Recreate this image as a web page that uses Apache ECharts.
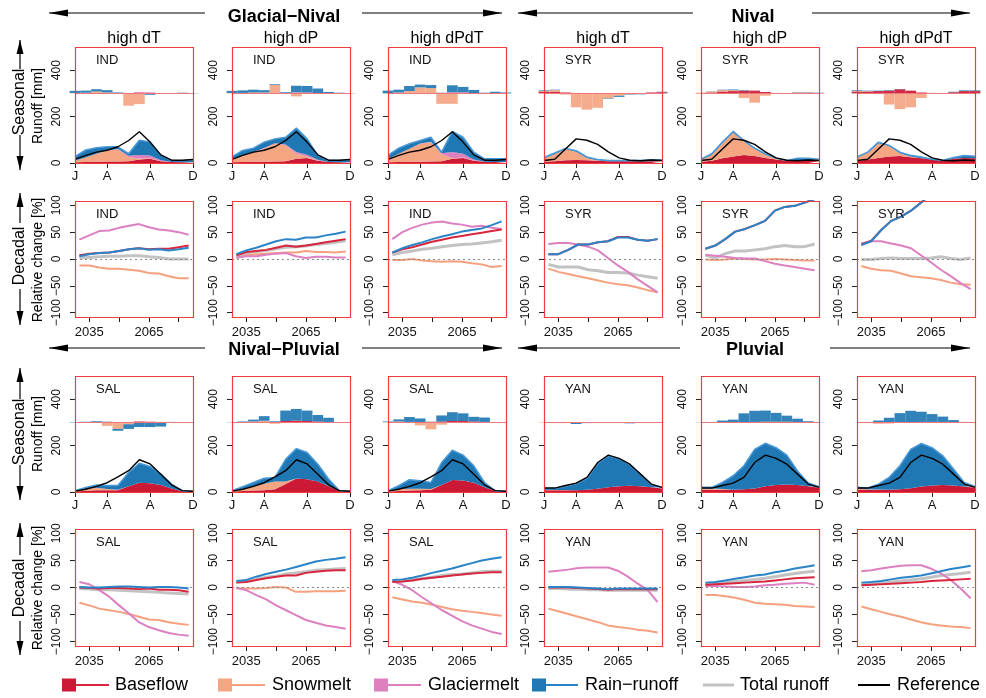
<!DOCTYPE html>
<html>
<head>
<meta charset="utf-8">
<title>Seasonal runoff and decadal relative change</title>
<script src="https://cdn.jsdelivr.net/npm/echarts@6/dist/echarts.min.js"></script>
<style>
  html, body { margin: 0; padding: 0; background: #fff; }
  #main { width: 986px; height: 698px; }
</style>
</head>
<body>
<div id="main"></div>
<script>
// ---- axes ----
var monthIdx = ['1','2','3','4','5','6','7','8','9','10','11','12'];
var monthLabels = {0: 'J', 3: 'A', 7: 'A', 11: 'D'};
var years = [2030, 2035, 2040, 2045, 2050, 2055, 2060, 2065, 2070, 2075, 2080, 2085];
var yearTicks = [2035, 2050, 2065, 2080];
var yearLabels = [2035, 2065];
var runoffTicks = [0, 200, 400];
var changeTicks = [-100, -50, 0, 50, 100];
var scenarios = ['high dT', 'high dP', 'high dPdT'];
var noGlac = [0,0,0,0,0,0,0,0,0,0,0,0];

// ---- reference seasonal runoff (black line) ----
var refIND = [16,33,47,55,70,97,135,90,35,12,12,15];
var refSYR = [11,16,60,104,98,80,48,22,12,10,13,11];
var refSAL = [4,12,24,40,65,92,139,121,76,31,6,3];
var refYAN = [17,17,28,38,63,127,159,145,120,77,34,20];

// ---- seasonal runoff components (mm) and their change bars ----
var IND_T_base = [3,4,5,6,6,8,15,18,8,4,3,3];
var IND_T_snow = [8,20,35,48,52,18,4,2,1,0,0,0];
var IND_T_glac = [0,0,0,1,2,5,15,12,3,0,0,0];
var IND_T_rain = [16,32,26,15,10,9,64,59,22,6,7,9];
var IND_T_dBase = [0,0,0,0,0,0,2,2,0,0,0,0];
var IND_T_dSnow = [2,3,8,4,0,-53,-46,0,0,0,0,0];
var IND_T_dGlac = [0,0,0,0,0,0,4,3,0,0,0,0];
var IND_T_dRain = [9,9,10,10,4,2,0,-6,-2,0,3,1];

var IND_P_base = [3,4,5,5,6,8,18,22,10,4,3,3];
var IND_P_snow = [15,29,42,59,77,68,22,6,1,0,0,0];
var IND_P_glac = [0,0,0,1,2,4,7,8,3,0,0,0];
var IND_P_rain = [8,21,17,25,19,31,104,68,19,7,8,10];
var IND_P_dBase = [0,0,0,0,0,0,3,3,1,0,0,0];
var IND_P_dSnow = [2,2,4,4,37,0,-13,0,0,0,0,0];
var IND_P_dGlac = [0,0,0,0,0,0,2,1,0,0,0,0];
var IND_P_dRain = [9,11,12,10,3,5,28,28,20,6,3,1];

var IND_PT_base = [3,4,5,5,6,8,18,22,10,5,4,4];
var IND_PT_snow = [15,36,56,78,84,30,3,2,1,0,0,0];
var IND_PT_glac = [0,0,0,1,2,4,26,16,4,0,0,0];
var IND_PT_rain = [15,24,22,13,19,5,89,71,32,13,14,14];
var IND_PT_dBase = [0,0,0,0,0,0,3,3,1,0,0,0];
var IND_PT_dSnow = [0,4,10,26,23,-45,-45,-2,0,0,0,0];
var IND_PT_dGlac = [0,0,0,0,0,0,2,2,0,0,0,0];
var IND_PT_dRain = [12,12,22,12,13,3,30,23,14,3,7,4];

var SYR_T_base = [5,8,12,13,12,10,8,8,8,8,8,7];
var SYR_T_snow = [15,30,48,36,10,2,0,0,0,0,0,0];
var SYR_T_rain = [4,5,3,4,4,3,3,3,3,3,6,6];
var SYR_T_dBase = [8,6,4,2,0,0,0,0,0,0,4,5];
var SYR_T_dSnow = [2,8,-5,-60,-70,-62,-22,-10,-3,-2,0,0];
var SYR_T_dRain = [3,2,0,0,0,0,-2,-5,-2,-2,0,2];

var SYR_P_base = [5,10,20,28,35,30,22,15,10,10,10,8];
var SYR_P_snow = [9,25,65,102,58,30,14,3,0,2,2,0];
var SYR_P_rain = [2,5,5,6,4,4,4,3,1,9,9,8];
var SYR_P_dBase = [2,4,8,10,12,12,6,2,0,3,3,2];
var SYR_P_dSnow = [1,4,6,4,-20,-40,-10,0,0,0,0,0];
var SYR_P_dRain = [0,1,2,3,2,0,0,0,0,1,1,1];

var SYR_PT_base = [8,15,22,28,30,25,20,15,10,18,22,20];
var SYR_PT_snow = [16,29,63,44,12,3,0,0,0,0,0,0];
var SYR_PT_rain = [2,3,5,4,5,5,6,1,1,6,10,9];
var SYR_PT_dBase = [8,8,10,12,18,12,4,2,0,5,10,10];
var SYR_PT_dSnow = [3,2,0,-48,-68,-60,-20,0,0,0,0,0];
var SYR_PT_dRain = [3,2,2,2,1,0,0,0,0,2,3,3];

var SAL_T_base = [2,5,8,8,8,25,40,38,30,15,3,2];
var SAL_T_snow = [3,8,10,5,2,0,0,0,0,0,0,0];
var SAL_T_rain = [0,6,12,15,18,59,84,72,47,19,2,1];
var SAL_T_dBase = [0,0,0,0,0,2,4,3,2,0,0,0];
var SAL_T_dSnow = [0,0,0,-15,-28,-8,0,0,0,0,0,0];
var SAL_T_dRain = [2,3,5,3,-8,-20,-20,-20,-18,2,0,0];

var SAL_P_base = [2,4,6,8,12,35,58,55,45,25,5,3];
var SAL_P_snow = [4,10,18,28,33,10,0,0,0,0,0,0];
var SAL_P_rain = [0,9,17,23,18,96,129,115,75,31,1,0];
var SAL_P_dBase = [0,0,1,1,2,6,8,6,4,2,0,0];
var SAL_P_dSnow = [0,1,3,6,-6,-3,0,0,0,0,0,0];
var SAL_P_dRain = [1,3,8,20,3,45,50,45,28,18,0,0];

var SAL_PT_base = [2,4,6,8,10,30,52,50,40,20,4,2];
var SAL_PT_snow = [4,8,8,6,3,0,0,0,0,0,0,0];
var SAL_PT_rain = [0,15,39,35,28,97,128,109,73,21,1,1];
var SAL_PT_dBase = [0,0,0,1,2,4,6,6,4,2,0,0];
var SAL_PT_dSnow = [1,4,2,-13,-30,-10,0,0,0,0,0,0];
var SAL_PT_dRain = [3,9,21,16,1,26,38,33,20,19,0,0];

var YAN_T_base = [8,8,8,8,10,14,20,25,27,25,20,15];
var YAN_T_snow = [1,1,1,0,0,0,0,0,0,0,0,0];
var YAN_T_rain = [6,6,16,27,48,108,135,118,91,50,13,4];
var YAN_T_dBase = [0,0,0,0,0,0,0,1,1,1,0,0];
var YAN_T_dSnow = [-2,-3,-3,-2,0,0,0,0,0,0,0,0];
var YAN_T_dRain = [0,0,0,-5,-3,-2,-2,-2,-4,-2,0,0];

var YAN_P_base = [10,10,10,10,12,15,25,30,32,30,25,18];
var YAN_P_snow = [5,5,3,0,0,0,0,0,0,0,0,0];
var YAN_P_rain = [5,5,28,60,101,169,185,161,127,61,14,5];
var YAN_P_dBase = [0,0,0,0,1,2,3,3,3,2,1,0];
var YAN_P_dSnow = [0,0,0,0,0,0,0,0,0,0,0,0];
var YAN_P_dRain = [1,2,8,12,38,48,48,38,26,14,4,1];

var YAN_PT_base = [10,10,10,10,12,16,24,28,30,28,24,18];
var YAN_PT_snow = [3,2,1,0,0,0,0,0,0,0,0,0];
var YAN_PT_rain = [7,5,23,53,101,168,185,163,126,71,17,6];
var YAN_PT_dBase = [0,0,0,0,0,1,2,2,2,1,0,0];
var YAN_PT_dSnow = [0,-3,-6,-5,-2,0,0,0,0,0,0,0];
var YAN_PT_dRain = [0,2,8,20,40,49,44,34,23,9,2,0];

// ---- decadal relative change (%) ----
var IND_T_rBase = [7,10,11,12,15,18,20,18,19,19,22,25];
var IND_T_rSnow = [-12,-12,-16,-18,-18,-20,-22,-26,-27,-32,-36,-36];
var IND_T_rGlac = [36,44,52,53,58,62,65,59,55,53,50,45];
var IND_T_rRain = [5,9,11,12,15,18,20,17,18,16,18,21];
var IND_T_rTotal = [3,3,4,5,5,6,6,4,3,0,0,0];

var IND_P_rBase = [7,13,15,17,21,25,23,25,28,31,34,37];
var IND_P_rSnow = [2,7,9,10,11,12,12,15,13,13,12,14];
var IND_P_rGlac = [3,5,5,8,10,11,5,2,4,4,3,3];
var IND_P_rRain = [9,16,21,27,33,37,36,40,40,44,47,51];
var IND_P_rTotal = [6,11,14,16,19,22,23,24,27,29,31,34];

var IND_PT_rBase = [12,18,22,27,32,36,40,43,46,49,52,55];
var IND_PT_rSnow = [-2,-2,0,-3,-4,-5,-4,-5,-8,-10,-15,-13];
var IND_PT_rGlac = [37,50,58,64,68,70,66,64,60,62,58,56];
var IND_PT_rRain = [12,20,26,31,37,42,46,51,54,57,63,70];
var IND_PT_rTotal = [8,12,15,18,20,23,25,27,28,30,32,35];

var SYR_T_rBase = [9,9,17,27,27,31,33,41,41,36,34,37];
var SYR_T_rSnow = [-18,-24,-28,-32,-36,-40,-44,-47,-49,-53,-58,-62];
var SYR_T_rGlac = [28,30,30,27,23,16,2,-12,-24,-38,-50,-62];
var SYR_T_rRain = [9,9,17,27,27,31,33,40,40,36,34,37];
var SYR_T_rTotal = [-10,-15,-15,-15,-20,-22,-25,-25,-26,-30,-33,-36];

var SYR_P_rBase = [19,25,37,51,56,63,71,90,97,99,105,112];
var SYR_P_rSnow = [-1,-2,-1,1,0,-1,-1,0,-1,-2,-3,-3];
var SYR_P_rGlac = [8,6,4,2,1,1,-4,-9,-12,-15,-18,-21];
var SYR_P_rRain = [19,25,37,51,56,63,71,90,97,99,105,111];
var SYR_P_rTotal = [7,2,10,15,15,17,19,23,25,23,23,28];

var SYR_PT_rBase = [27,34,54,71,79,90,105,120,135,150,165,180];
var SYR_PT_rSnow = [-13,-18,-21,-22,-27,-32,-34,-36,-39,-44,-47,-48];
var SYR_PT_rGlac = [29,33,33,29,25,20,7,-6,-20,-32,-45,-56];
var SYR_PT_rRain = [26,33,54,71,79,90,105,120,135,150,165,180];
var SYR_PT_rTotal = [-1,-1,1,2,1,1,1,2,4,1,-1,2];

var SAL_T_rBase = [0,-1,-2,-1,-1,-2,-3,-2,-4,-4,-5,-8];
var SAL_T_rSnow = [-28,-33,-39,-42,-45,-49,-54,-59,-60,-64,-67,-69];
var SAL_T_rGlac = [10,6,-5,-17,-33,-48,-64,-73,-79,-84,-87,-89];
var SAL_T_rRain = [1,0,0,1,2,2,1,0,1,1,0,-2];
var SAL_T_rTotal = [-2,-3,-4,-4,-5,-6,-7,-8,-9,-10,-11,-12];

var SAL_P_rBase = [9,10,14,17,20,22,22,27,29,31,32,32];
var SAL_P_rSnow = [-2,-2,-2,-1,1,0,-8,-8,-7,-7,-7,-6];
var SAL_P_rGlac = [0,-5,-14,-22,-33,-42,-51,-60,-65,-70,-73,-76];
var SAL_P_rRain = [12,14,20,25,29,33,38,43,48,51,53,56];
var SAL_P_rTotal = [10,12,15,19,21,25,27,29,32,33,34,35];

var SAL_PT_rBase = [10,11,13,16,18,20,22,24,26,27,28,28];
var SAL_PT_rSnow = [-18,-22,-26,-28,-32,-36,-40,-43,-45,-47,-50,-52];
var SAL_PT_rGlac = [12,5,-5,-18,-30,-42,-52,-62,-70,-76,-82,-86];
var SAL_PT_rRain = [14,15,18,22,27,31,35,40,45,50,53,56];
var SAL_PT_rTotal = [12,12,14,16,19,22,24,25,27,29,30,30];

var YAN_T_rBase = [0,0,0,-1,-2,-3,-4,-3,-3,-3,-3,-3];
var YAN_T_rSnow = [-39,-44,-49,-54,-59,-64,-70,-73,-75,-78,-80,-83];
var YAN_T_rGlac = [29,31,33,36,37,37,37,31,20,7,-5,-27];
var YAN_T_rRain = [1,1,1,0,-1,-2,-3,-2,-2,-2,-2,-2];
var YAN_T_rTotal = [-2,-2,-3,-3,-4,-4,-5,-5,-5,-5,-5,-5];

var YAN_P_rBase = [5,6,7,8,9,10,11,13,15,17,18,19];
var YAN_P_rSnow = [-14,-14,-16,-19,-23,-28,-30,-31,-32,-34,-35,-36];
var YAN_P_rGlac = [3,3,2,1,1,2,4,5,7,8,9,5];
var YAN_P_rRain = [9,10,13,16,19,22,24,28,31,35,38,41];
var YAN_P_rTotal = [6,7,9,11,13,15,17,20,23,26,28,30];

var YAN_PT_rBase = [4,5,6,7,8,9,10,12,13,14,15,16];
var YAN_PT_rSnow = [-35,-40,-45,-50,-54,-59,-64,-68,-70,-72,-73,-75];
var YAN_PT_rGlac = [30,32,35,38,40,41,41,35,26,14,-2,-20];
var YAN_PT_rRain = [9,10,12,15,18,20,22,26,30,34,37,40];
var YAN_PT_rTotal = [5,6,8,10,12,14,16,19,22,24,26,28];

// panels, row by row
var seasonalPanels = [
  [
    {lab: 'IND', ref: refIND, parts: [IND_T_base, IND_T_snow, IND_T_glac, IND_T_rain], diffs: [IND_T_dBase, IND_T_dSnow, IND_T_dGlac, IND_T_dRain]},
    {lab: 'IND', ref: refIND, parts: [IND_P_base, IND_P_snow, IND_P_glac, IND_P_rain], diffs: [IND_P_dBase, IND_P_dSnow, IND_P_dGlac, IND_P_dRain]},
    {lab: 'IND', ref: refIND, parts: [IND_PT_base, IND_PT_snow, IND_PT_glac, IND_PT_rain], diffs: [IND_PT_dBase, IND_PT_dSnow, IND_PT_dGlac, IND_PT_dRain]},
    {lab: 'SYR', ref: refSYR, parts: [SYR_T_base, SYR_T_snow, noGlac, SYR_T_rain], diffs: [SYR_T_dBase, SYR_T_dSnow, noGlac, SYR_T_dRain]},
    {lab: 'SYR', ref: refSYR, parts: [SYR_P_base, SYR_P_snow, noGlac, SYR_P_rain], diffs: [SYR_P_dBase, SYR_P_dSnow, noGlac, SYR_P_dRain]},
    {lab: 'SYR', ref: refSYR, parts: [SYR_PT_base, SYR_PT_snow, noGlac, SYR_PT_rain], diffs: [SYR_PT_dBase, SYR_PT_dSnow, noGlac, SYR_PT_dRain]}
  ],
  [
    {lab: 'SAL', ref: refSAL, parts: [SAL_T_base, SAL_T_snow, noGlac, SAL_T_rain], diffs: [SAL_T_dBase, SAL_T_dSnow, noGlac, SAL_T_dRain]},
    {lab: 'SAL', ref: refSAL, parts: [SAL_P_base, SAL_P_snow, noGlac, SAL_P_rain], diffs: [SAL_P_dBase, SAL_P_dSnow, noGlac, SAL_P_dRain]},
    {lab: 'SAL', ref: refSAL, parts: [SAL_PT_base, SAL_PT_snow, noGlac, SAL_PT_rain], diffs: [SAL_PT_dBase, SAL_PT_dSnow, noGlac, SAL_PT_dRain]},
    {lab: 'YAN', ref: refYAN, parts: [YAN_T_base, YAN_T_snow, noGlac, YAN_T_rain], diffs: [YAN_T_dBase, YAN_T_dSnow, noGlac, YAN_T_dRain]},
    {lab: 'YAN', ref: refYAN, parts: [YAN_P_base, YAN_P_snow, noGlac, YAN_P_rain], diffs: [YAN_P_dBase, YAN_P_dSnow, noGlac, YAN_P_dRain]},
    {lab: 'YAN', ref: refYAN, parts: [YAN_PT_base, YAN_PT_snow, noGlac, YAN_PT_rain], diffs: [YAN_PT_dBase, YAN_PT_dSnow, noGlac, YAN_PT_dRain]}
  ]
];
// line order: total, snow, glacier, base, rain (rain drawn last)
var decadalPanels = [
  [
    {lab: 'IND', lines: [IND_T_rTotal, IND_T_rSnow, IND_T_rGlac, IND_T_rBase, IND_T_rRain]},
    {lab: 'IND', lines: [IND_P_rTotal, IND_P_rSnow, IND_P_rGlac, IND_P_rBase, IND_P_rRain]},
    {lab: 'IND', lines: [IND_PT_rTotal, IND_PT_rSnow, IND_PT_rGlac, IND_PT_rBase, IND_PT_rRain]},
    {lab: 'SYR', lines: [SYR_T_rTotal, SYR_T_rSnow, SYR_T_rGlac, SYR_T_rBase, SYR_T_rRain]},
    {lab: 'SYR', lines: [SYR_P_rTotal, SYR_P_rSnow, SYR_P_rGlac, SYR_P_rBase, SYR_P_rRain]},
    {lab: 'SYR', lines: [SYR_PT_rTotal, SYR_PT_rSnow, SYR_PT_rGlac, SYR_PT_rBase, SYR_PT_rRain]}
  ],
  [
    {lab: 'SAL', lines: [SAL_T_rTotal, SAL_T_rSnow, SAL_T_rGlac, SAL_T_rBase, SAL_T_rRain]},
    {lab: 'SAL', lines: [SAL_P_rTotal, SAL_P_rSnow, SAL_P_rGlac, SAL_P_rBase, SAL_P_rRain]},
    {lab: 'SAL', lines: [SAL_PT_rTotal, SAL_PT_rSnow, SAL_PT_rGlac, SAL_PT_rBase, SAL_PT_rRain]},
    {lab: 'YAN', lines: [YAN_T_rTotal, YAN_T_rSnow, YAN_T_rGlac, YAN_T_rBase, YAN_T_rRain]},
    {lab: 'YAN', lines: [YAN_P_rTotal, YAN_P_rSnow, YAN_P_rGlac, YAN_P_rBase, YAN_P_rRain]},
    {lab: 'YAN', lines: [YAN_PT_rTotal, YAN_PT_rSnow, YAN_PT_rGlac, YAN_PT_rBase, YAN_PT_rRain]}
  ]
];

// ---- layout / style ----
var FONT = 'Liberation Sans';
var frameColor = '#f03c3c';
var fills = ['#cc1a36', '#f4a582', '#de7fbe', '#1f78b4'];
var lineCols = ['#c2c2c2', '#f5a07e', '#dc80c2', '#d7263d', '#2a84c8'];
var lineWidths = [3, 2, 2, 2, 2];
var colLeft = [75, 232, 388, 544, 701, 857];
var rowTop = [47, 201, 376, 529];
var rowH = [116, 116, 116, 117];
var panelW = 118;

var grids = [], xAxes = [], yAxes = [], series = [], graphics = [];

function tickStyle() { return {show: true, length: 5, lineStyle: {color: '#222', width: 1}}; }

function addFrame(r, c, lab) {
  graphics.push({type: 'rect', silent: true, z: 100,
    shape: {x: colLeft[c] + 0.5, y: rowTop[r] + 0.5, width: panelW, height: rowH[r]},
    style: {fill: 'none', stroke: frameColor, lineWidth: 1.2}});
  graphics.push({type: 'text', silent: true, z: 100, x: colLeft[c] + 21, y: rowTop[r] + 13,
    style: {text: lab, font: '13px ' + FONT, fill: '#111', textVerticalAlign: 'middle'}});
}

function addSeasonal(r, c, p) {
  var g = grids.length;
  grids.push({left: colLeft[c], top: rowTop[r], width: panelW, height: rowH[r], show: false});
  var monthShown = function (i) { return monthLabels.hasOwnProperty(i); };
  xAxes.push({gridIndex: g, type: 'category', data: monthIdx, boundaryGap: false,
    axisLine: {show: false, onZero: false}, splitLine: {show: false},
    axisTick: {show: true, length: 5, interval: monthShown, lineStyle: {color: '#222'}},
    axisLabel: {interval: monthShown, formatter: function (v, i) { return monthLabels[i] || ''; },
      fontSize: 13, fontFamily: FONT, color: '#111', margin: 7}});
  var y0 = yAxes.length;
  yAxes.push({gridIndex: g, type: 'value', min: 0, max: 500,
    axisLine: {show: false, onZero: false}, splitLine: {show: false},
    axisTick: Object.assign(tickStyle(), {customValues: runoffTicks}),
    axisLabel: {customValues: runoffTicks, rotate: 90, fontSize: 12, fontFamily: FONT, color: '#111', margin: 12}});
  // change bars sit on a shifted axis so that 0 falls on 300 mm
  yAxes.push({gridIndex: g, type: 'value', min: -300, max: 200, show: false});

  p.parts.forEach(function (arr, k) {
    series.push({type: 'line', xAxisIndex: g, yAxisIndex: y0, stack: 'area' + g, data: arr,
      symbol: 'none', z: 2,
      lineStyle: k === 3 ? {color: '#4a98d6', width: 1.5} : {width: 0},
      areaStyle: {color: fills[k], opacity: 1}});
  });
  p.diffs.forEach(function (arr, k) {
    series.push({type: 'bar', xAxisIndex: g, yAxisIndex: y0 + 1, stack: 'bar' + g, data: arr,
      barWidth: '100%', z: 3, itemStyle: {color: fills[k], opacity: 0.92}});
  });
  series.push({type: 'line', xAxisIndex: g, yAxisIndex: y0, data: p.ref, symbol: 'none', z: 4,
    lineStyle: {color: '#000', width: 1.4},
    markLine: {silent: true, symbol: 'none', label: {show: false}, animation: false,
      lineStyle: {color: '#f0787c', width: 1.2, type: 'solid'}, data: [{yAxis: 300}]}});
  addFrame(r, c, p.lab);
}

function addDecadal(r, c, p) {
  var g = grids.length;
  grids.push({left: colLeft[c], top: rowTop[r], width: panelW, height: rowH[r], show: false});
  xAxes.push({gridIndex: g, type: 'value', min: 2027.8, max: 2087.2,
    axisLine: {show: false, onZero: false}, splitLine: {show: false},
    axisTick: Object.assign(tickStyle(), {customValues: yearTicks}),
    axisLabel: {customValues: yearLabels, formatter: function (v) { return String(v); },
      fontSize: 13, fontFamily: FONT, color: '#111', margin: 9}});
  var y0 = yAxes.length;
  yAxes.push({gridIndex: g, type: 'value', min: -108, max: 108,
    axisLine: {show: false, onZero: false}, splitLine: {show: false},
    axisTick: Object.assign(tickStyle(), {customValues: changeTicks}),
    axisLabel: {customValues: changeTicks, rotate: 90, fontSize: 12, fontFamily: FONT, color: '#111', margin: 12,
      formatter: function (v) { return v < 0 ? '\u2212' + (-v) : String(v); }}});
  p.lines.forEach(function (arr, k) {
    var s = {type: 'line', xAxisIndex: g, yAxisIndex: y0, symbol: 'none', z: 2 + k,
      data: years.map(function (yr, i) { return [yr, arr[i]]; }),
      lineStyle: {color: lineCols[k], width: lineWidths[k]}};
    if (k === 0) {
      s.markLine = {silent: true, symbol: 'none', label: {show: false}, animation: false,
        lineStyle: {color: '#8a8a8a', width: 1, type: [2, 3]}, data: [{yAxis: 0}]};
    }
    series.push(s);
  });
  addFrame(r, c, p.lab);
}

for (var c = 0; c < 6; c++) {
  addSeasonal(0, c, seasonalPanels[0][c]);
  addDecadal(1, c, decadalPanels[0][c]);
  addSeasonal(2, c, seasonalPanels[1][c]);
  addDecadal(3, c, decadalPanels[1][c]);
}

// ---- decorations: titles, arrows, legend ----
function txt(x, y, s, size, opts) {
  opts = opts || {};
  graphics.push({type: 'text', silent: true, z: 100, x: x, y: y, rotation: opts.rot || 0,
    style: {text: s, font: (opts.bold ? 'bold ' : '') + size + 'px ' + FONT, fill: '#000',
      textAlign: opts.align || 'center', textVerticalAlign: 'middle'}});
}
function seg(x1, y1, x2, y2, w, col) {
  graphics.push({type: 'line', silent: true, z: 100, shape: {x1: x1, y1: y1, x2: x2, y2: y2},
    style: {stroke: col || '#000', lineWidth: w || 1.2}});
}
function head(x, y, dir, len, hw) {
  var pts;
  if (dir === 'left') pts = [[x, y], [x + len, y - hw], [x + len, y + hw]];
  else if (dir === 'right') pts = [[x, y], [x - len, y - hw], [x - len, y + hw]];
  else if (dir === 'up') pts = [[x, y], [x - hw, y + len], [x + hw, y + len]];
  else pts = [[x, y], [x - hw, y - len], [x + hw, y - len]];
  graphics.push({type: 'polygon', silent: true, z: 100, shape: {points: pts}, style: {fill: '#000'}});
}
function hArrows(y, l1, l2, r1, r2) {
  seg(l1, y, l2, y); head(l1, y, 'left', 19, 3.5);
  seg(r1, y, r2, y); head(r2, y, 'right', 19, 3.5);
}

// regime headings
hArrows(13, 49, 205, 362, 502);
txt(284, 17, 'Glacial\u2212Nival', 18, {bold: true});
hArrows(13, 518, 693, 812, 970);
txt(753, 17, 'Nival', 18, {bold: true});
hArrows(348, 49, 205, 362, 502);
txt(284, 350, 'Nival\u2212Pluvial', 18, {bold: true});
hArrows(348, 518, 680, 830, 970);
txt(755, 350, 'Pluvial', 18, {bold: true});

// scenario headings above first row
for (var c2 = 0; c2 < 6; c2++) {
  txt(colLeft[c2] + panelW / 2, 39, scenarios[c2 % 3], 16);
}

// left axis titles with vertical arrows
function vTitle(y1, y2, mid, word, sub, subMid) {
  var gap = 33;
  seg(20, y1, 20, mid - gap); head(20, y1, 'up', 14, 3.5);
  seg(20, mid + gap, 20, y2); head(20, y2, 'down', 14, 3.5);
  txt(20, mid, word, 16, {rot: Math.PI / 2});
  txt(38, subMid, sub, 14, {rot: Math.PI / 2});
}
vTitle(40, 170, 102, 'Seasonal', 'Runoff [mm]', 106);
vTitle(193, 325, 256, 'Decadal', 'Relative change [%]', 260);
vTitle(368, 500, 432, 'Seasonal', 'Runoff [mm]', 434);
vTitle(523, 655, 588, 'Decadal', 'Relative change [%]', 588);

// legend
var legendY = 685;
var legendItems = [
  {name: 'Baseflow', fill: fills[0], line: '#d7263d', x: 62, lineEnd: 109, tx: 115},
  {name: 'Snowmelt', fill: fills[1], line: '#f5a07e', x: 218, lineEnd: 265, tx: 272},
  {name: 'Glaciermelt', fill: fills[2], line: '#dc80c2', x: 374, lineEnd: 421, tx: 428},
  {name: 'Rain\u2212runoff', fill: fills[3], line: '#2a84c8', x: 532, lineEnd: 578, tx: 585},
  {name: 'Total runoff', fill: null, line: '#c2c2c2', x: 703, lineEnd: 734, tx: 740, w: 3},
  {name: 'Reference', fill: null, line: '#000', x: 858, lineEnd: 890, tx: 897}
];
legendItems.forEach(function (it) {
  seg(it.x, legendY, it.lineEnd, legendY, it.w || 2, it.line);
  if (it.fill) {
    graphics.push({type: 'rect', silent: true, z: 101,
      shape: {x: it.x, y: legendY - 6.5, width: 14, height: 13}, style: {fill: it.fill}});
  }
  txt(it.tx, legendY, it.name, 18, {align: 'left'});
});

var chart = echarts.init(document.getElementById('main'), null, {renderer: 'canvas'});
chart.setOption({
  animation: false,
  backgroundColor: '#fff',
  grid: grids,
  xAxis: xAxes,
  yAxis: yAxes,
  series: series,
  graphic: graphics
});
</script>
</body>
</html>
